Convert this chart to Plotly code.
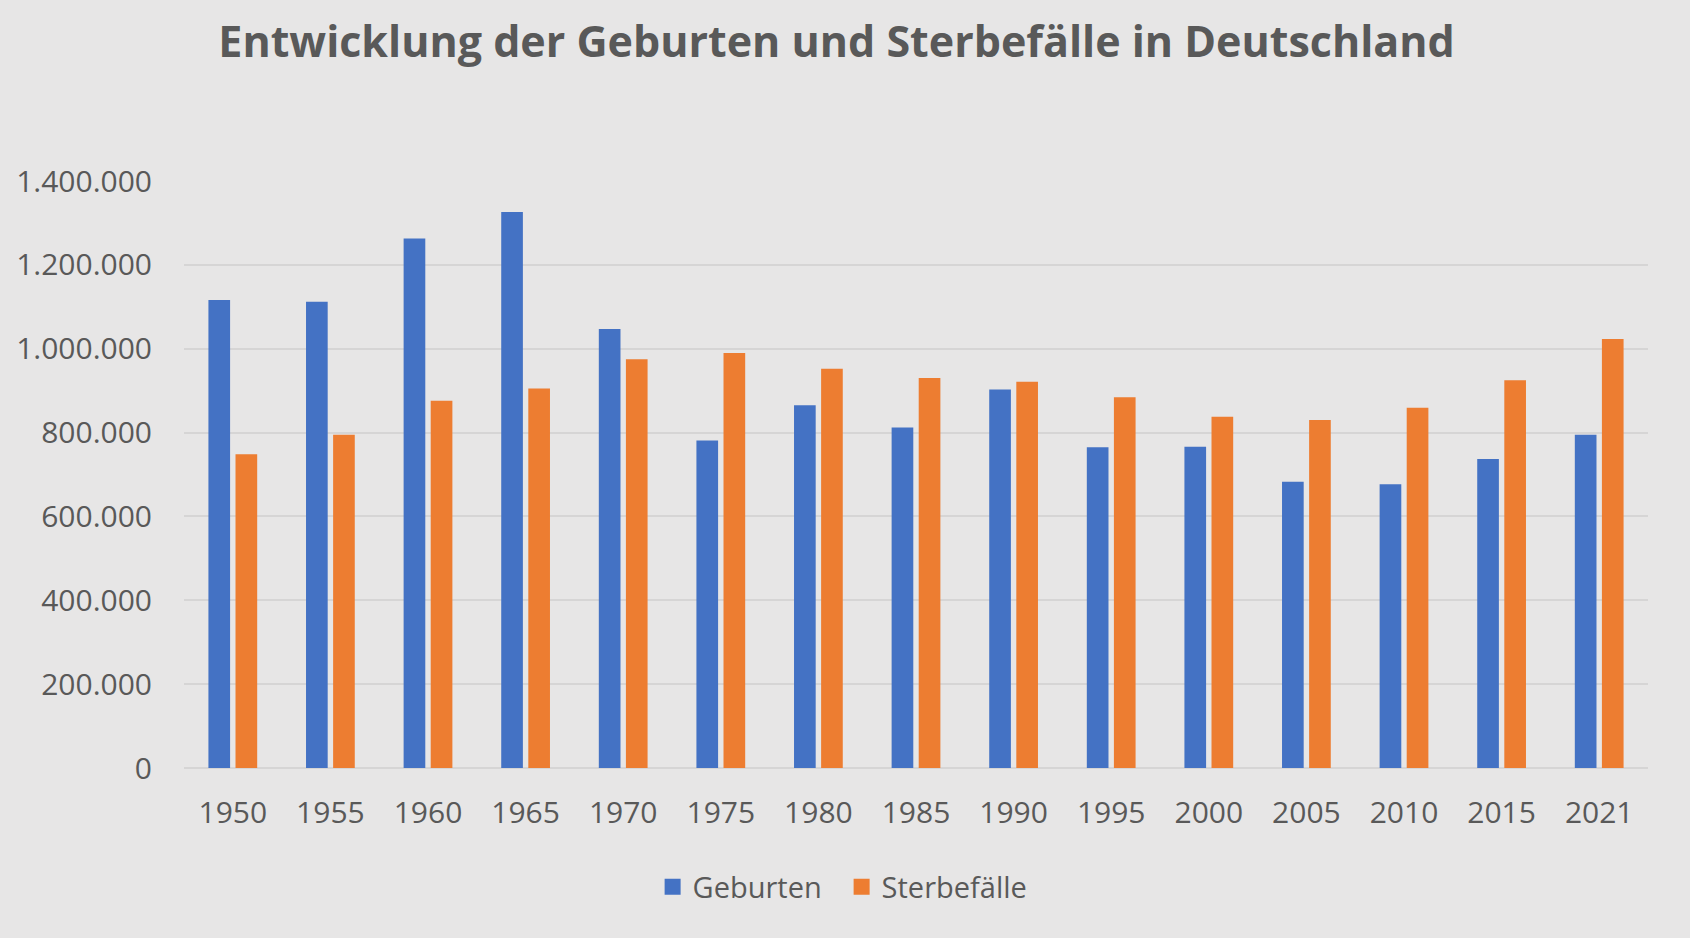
import plotly.graph_objects as go

years = ["1950", "1955", "1960", "1965", "1970", "1975", "1980", "1985",
         "1990", "1995", "2000", "2005", "2010", "2015", "2021"]
geburten = [1116000, 1112000, 1263000, 1326000, 1047000, 781000, 865000, 812000,
            903000, 765000, 766000, 683000, 677000, 737000, 795000]
sterbefaelle = [748000, 795000, 876000, 905000, 975000, 990000, 952000, 930000,
                921000, 884000, 838000, 830000, 859000, 925000, 1023000]
y_ticks = [0, 200000, 400000, 600000, 800000, 1000000, 1200000, 1400000]
y_ticklabels = ["0", "200.000", "400.000", "600.000", "800.000",
                "1.000.000", "1.200.000", "1.400.000"]

BG = "rgb(231,230,230)"
TXT = "#595959"
FONT = "Open Sans"
BLUE = "#4472C4"
ORANGE = "#ED7D31"

fig = go.Figure()
fig.add_trace(go.Bar(x=years, y=geburten, name="Geburten", showlegend=False,
                     legendgroup="g", marker=dict(color=BLUE, line=dict(width=0))))
fig.add_trace(go.Bar(x=years, y=sterbefaelle, name="Sterbefälle", showlegend=False,
                     legendgroup="s", marker=dict(color=ORANGE, line=dict(width=0))))
# legend-only entries with larger square symbols
fig.add_trace(go.Scatter(x=[None], y=[None], mode="markers", name="Geburten",
                         legendgroup="g",
                         marker=dict(symbol="square", size=18, color=BLUE)))
fig.add_trace(go.Scatter(x=[None], y=[None], mode="markers", name="Sterbefälle",
                         legendgroup="s",
                         marker=dict(symbol="square", size=18, color=ORANGE)))

fig.update_layout(
    width=1690, height=938,
    paper_bgcolor=BG, plot_bgcolor=BG,
    margin=dict(l=184, r=42, t=181, b=170),
    barmode="group", bargap=0.445, bargroupgap=0.2,
    font=dict(family=FONT, color=TXT, size=30),
    title=dict(text="<b>Entwicklung der Geburten und Sterbefälle in Deutschland</b>",
               x=0.495, xanchor="center", xref="container",
               y=1 - 42 / 938, yanchor="middle", yref="container",
               font=dict(family=FONT, size=43, color=TXT)),
    legend=dict(orientation="h", xref="container", yref="container",
                x=0.498, xanchor="center", y=1 - 887 / 938, yanchor="middle",
                font=dict(family=FONT, size=29, color=TXT),
                entrywidth=144, entrywidthmode="pixels",
                bgcolor="rgba(0,0,0,0)", itemsizing="trace"),
    showlegend=True,
)
fig.update_yaxes(range=[0, 1400000], tickvals=y_ticks, ticktext=y_ticklabels,
                 showgrid=True, gridcolor="rgb(214,213,213)", gridwidth=2,
                 zeroline=True, zerolinecolor="rgb(214,213,213)", zerolinewidth=2,
                 showline=False, ticks="outside", ticklen=25, tickcolor=BG,
                 tickfont=dict(family=FONT, size=30, color=TXT), fixedrange=True)
fig.update_xaxes(showgrid=False, showline=False, ticks="outside", ticklen=18,
                 tickcolor=BG, tickfont=dict(family=FONT, size=30, color=TXT),
                 type="category", fixedrange=True)

fig.write_html("out.html")
